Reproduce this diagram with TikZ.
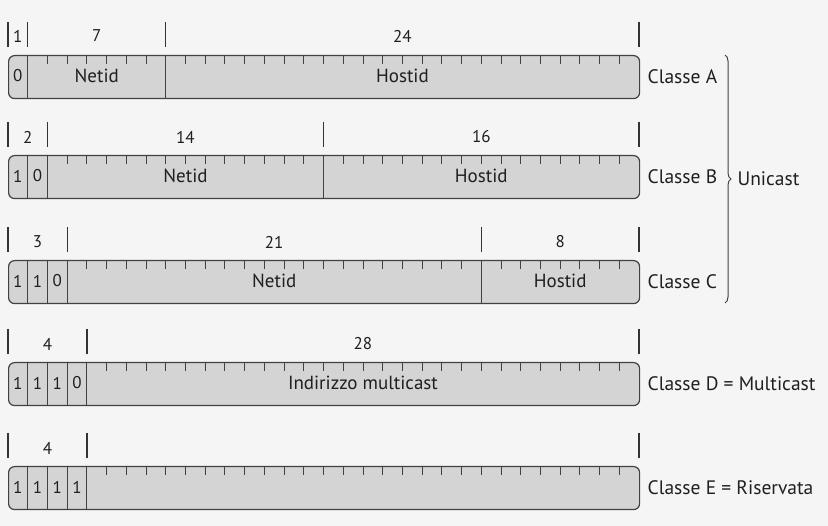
\documentclass[tikz,border=0pt]{standalone}
\usepackage{fontspec}
\setmainfont{PT Sans}
\usetikzlibrary{positioning, decorations.pathreplacing}
\definecolor{bargray}{RGB}{212,212,212}
\definecolor{inkgray}{RGB}{65,65,65}
\newcommand{\bw}{19.72} % width of one bit
\tikzset{
x=1pt, y=-1pt, % one unit is one point, y runs downwards
node distance=4pt, % gap between a box and its class name
bar/.style={draw=inkgray, line width=1.2pt, fill=bargray, rounded corners=6pt, minimum width=631pt, minimum height=43pt, inner sep=0pt, anchor=north west}, % the 32 bit box
tick/.style={draw=inkgray, line width=0.9pt}, % small mark on every bit
sep/.style={draw=inkgray, line width=1pt}, % border between two fields
rule/.style={draw=black!80, line width=1.3pt}, % lines above the boxes
num/.style={font=\fontsize{17}{17}\selectfont, text=black!88}, % bit counts and bits
fld/.style={font=\fontsize{19}{19}\selectfont, text=black!88}, % field names
lbl/.style={font=\fontsize{19.5}{19.5}\selectfont, text=black!88}, % class names
}

\begin{document}
\begin{tikzpicture}
        \fill[black!4] (0,0) rectangle (828,526);
        \useasboundingbox (0,0) rectangle (828,526);

        \node[bar] (barA) at (8,55) {};
        \node[bar] (barB) at (8,155) {};
        \node[bar] (barC) at (8,260) {};
        \node[bar] (barD) at (8,362) {};
        \node[bar] (barE) at (8,466) {};

        \foreach \t in {55,155,260,362,466}
          \foreach \k in {1,...,31}
            \draw[tick] (8+\k*\bw,\t) -- ++(0,9);

        \foreach \t/\list in {55/{1,8}, 155/{1,2,16}, 260/{1,2,3,24}, 362/{1,2,3,4}, 466/{1,2,3,4}}
          \foreach \k in \list
            \draw[sep] (8+\k*\bw,\t) -- ++(0,43);

        \foreach \t/\list in {55/{0,1,8,32}, 155/{0,2,16,32}, 260/{0,3,24,32}, 362/{0,4,32}, 466/{0,4,32}}
          \foreach \k in \list
            \draw[rule] (8+\k*\bw,\t-33) -- ++(0,25);

        % Classe A
        \node[num] (nA1) at (8+0.5*\bw,36) {1};
        \node[num] (nA2) at (8+4.5*\bw,36) {7};
        \node[num] (nA3) at (8+20*\bw,36) {24};
        \node[num] (bA1) at (8+0.5*\bw,76) {0};
        \node[fld] (netA) at (8+4.5*\bw,76) {Netid};
        \node[fld] (hostA) at (8+20*\bw,76) {Hostid};
        \node[lbl, right=of barA] (clsA) {Classe A};

        % Classe B
        \node[num] (nB1) at (8+1*\bw,137) {2};
        \node[num] (nB2) at (8+9*\bw,137) {14};
        \node[num] (nB3) at (8+24*\bw,137) {16};
        \node[num] (bB1) at (8+0.5*\bw,176) {1};
        \node[num] (bB2) at (8+1.5*\bw,176) {0};
        \node[fld] (netB) at (8+9*\bw,176) {Netid};
        \node[fld] (hostB) at (8+24*\bw,176) {Hostid};
        \node[lbl, right=of barB] (clsB) {Classe B};

        % Classe C
        \node[num] (nC1) at (8+1.5*\bw,242) {3};
        \node[num] (nC2) at (8+13.5*\bw,242) {21};
        \node[num] (nC3) at (8+28*\bw,242) {8};
        \node[num] (bC1) at (8+0.5*\bw,281) {1};
        \node[num] (bC2) at (8+1.5*\bw,281) {1};
        \node[num] (bC3) at (8+2.5*\bw,281) {0};
        \node[fld] (netC) at (8+13.5*\bw,281) {Netid};
        \node[fld] (hostC) at (8+28*\bw,281) {Hostid};
        \node[lbl, right=of barC] (clsC) {Classe C};

        % Classe D
        \node[num] (nD1) at (8+2*\bw,344) {4};
        \node[num] (nD2) at (8+18*\bw,344) {28};
        \node[num] (bD1) at (8+0.5*\bw,383) {1};
        \node[num] (bD2) at (8+1.5*\bw,383) {1};
        \node[num] (bD3) at (8+2.5*\bw,383) {1};
        \node[num] (bD4) at (8+3.5*\bw,383) {0};
        \node[fld] (multD) at (8+18*\bw,383) {Indirizzo multicast};
        \node[lbl, right=of barD] (clsD) {Classe D = Multicast};

        % Classe E
        \node[num] (nE1) at (8+2*\bw,448) {4};
        \node[num] (bE1) at (8+0.5*\bw,487) {1};
        \node[num] (bE2) at (8+1.5*\bw,487) {1};
        \node[num] (bE3) at (8+2.5*\bw,487) {1};
        \node[num] (bE4) at (8+3.5*\bw,487) {1};
        \node[lbl, right=of barE] (clsE) {Classe E = Riservata};

        % Unicast
        \coordinate (braceTop) at (725,55);
        \coordinate (braceBot) at (725,303);
        \draw[inkgray, line width=1pt, decorate, decoration={brace, amplitude=6pt}] (braceTop) -- (braceBot);
        \node[lbl, anchor=west] (uni) at (734,179) {Unicast};
\end{tikzpicture}
\end{document}
